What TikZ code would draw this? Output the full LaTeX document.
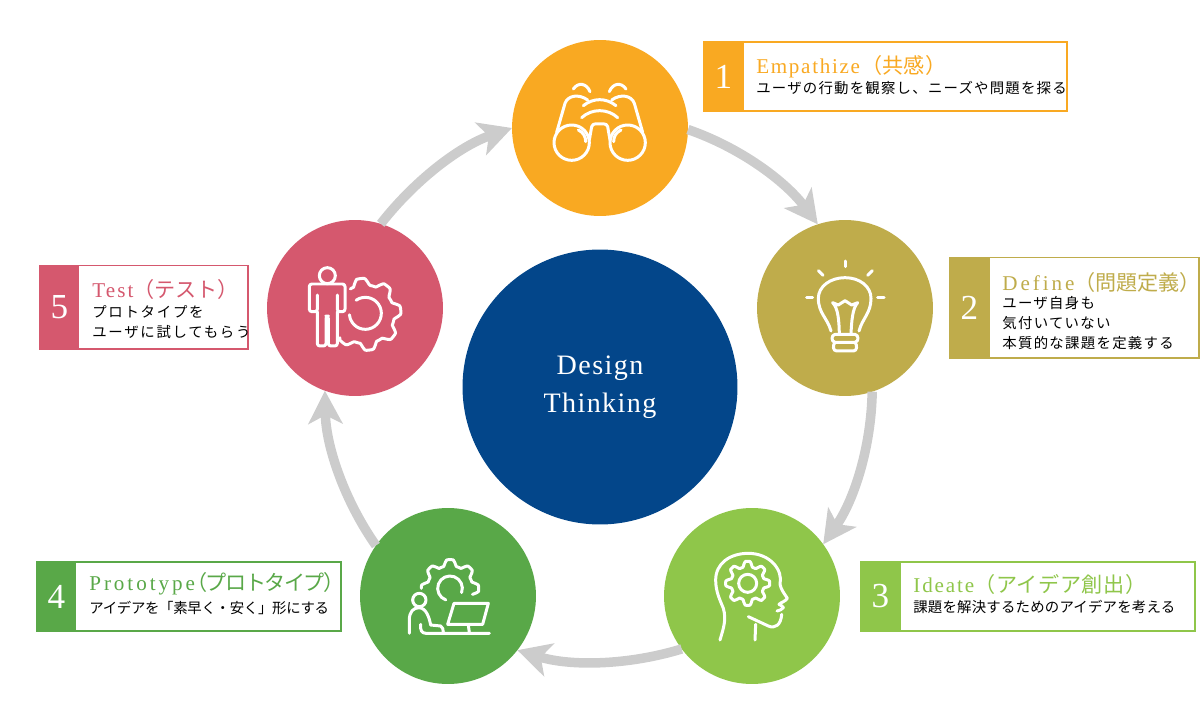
\documentclass[tikz,border=0pt]{standalone}
\usepackage{fontspec}
\usetikzlibrary{arrows.meta}
\setmainfont{Liberation Serif}
\newfontfamily\titlefont{Liberation Serif}
\newfontfamily\cjk{Noto Sans CJK JP}
\newfontfamily\cjktitle{Noto Sans CJK JP}
\definecolor{empathizeC}{HTML}{F9A922}
\definecolor{defineC}{HTML}{BFAC4B}
\definecolor{ideateC}{HTML}{8FC64A}
\definecolor{prototypeC}{HTML}{59A848}
\definecolor{testC}{HTML}{D5586E}
\definecolor{centerC}{HTML}{03468A}
\definecolor{arcC}{HTML}{CCCCCC}
\tikzset{
  stepdisc/.style={circle, minimum size=3.52cm, inner sep=0pt, outer sep=0pt},
  tagbox/.style={anchor=north west, fill=white, line width=0.04cm, inner sep=0pt, outer sep=0pt},
  numbox/.style={anchor=north west, inner sep=0pt, outer sep=0pt, minimum width=0.8cm,
    text=white, font=\fontsize{20}{20}\selectfont},
  tagtitle/.style={anchor=west, inner sep=0pt, font=\fontsize{12}{14}\titlefont\addfontfeature{LetterSpace=#1}},
  tagbody/.style={anchor=west, inner sep=0pt, align=left, font=\fontsize{8.2}{11.3}\cjk\addfontfeature{LetterSpace=#1}},
  cyclearc/.style={draw=arcC, line width=0.19cm, looseness=0.87,
    -{Stealth[length=0.66cm,width=0.68cm,inset=0.17cm]}},
  icon/.style={draw=white, line width=0.06cm, line cap=round, line join=round}
}
\begin{document}
\begin{tikzpicture}[x=0.02cm,y=-0.02cm]
  \useasboundingbox (0,0) rectangle (1200,726);

  % centre and the five steps
  \node (center) [circle, fill=centerC, minimum size=5.5cm, inner sep=0pt] at (600,387) {};
  \node (centertext) [text=white, align=center, inner sep=0pt,
    font=\fontsize{16}{21.6}\titlefont\addfontfeature{LetterSpace=5}] at (600,387.5) {Design\\Thinking};
  \node (stepone) [stepdisc, fill=empathizeC] at (600,128) {};
  \node (steptwo) [stepdisc, fill=defineC] at (845,308) {};
  \node (stepthree) [stepdisc, fill=ideateC] at (752,596) {};
  \node (stepfour) [stepdisc, fill=prototypeC] at (448,596) {};
  \node (stepfive) [stepdisc, fill=testC] at (355,308) {};

  % arrows
  \draw[cyclearc] (stepone.-1) to[out=-19, in=127] (steptwo.108);
  \draw[cyclearc] (steptwo.-72) to[out=-91, in=55] (stepthree.36);
  \draw[cyclearc] (stepthree.217) to[out=197, in=-17] (stepfour.-38);
  \draw[cyclearc] (stepfour.145) to[out=125, in=271] (stepfive.250);
  \draw[cyclearc] (stepfive.73) to[out=52, in=199] (stepone.180);

  % labels
  \node (boxone) [tagbox, draw=empathizeC, minimum width=7.28cm, minimum height=1.38cm] at (703.5,42.5) {};
  \node (numone) [numbox, fill=empathizeC, minimum height=1.38cm] at (703.5,42.5) {1};
  \node (titleone) [tagtitle=8, text=empathizeC] at (756,67) {Empathize{\cjktitle \kern1pt（共感）}};
  \node (bodyone) [tagbody=8.5] at (756,88) {ユーザの行動を観察し、ニーズや問題を探る};

  \node (boxtwo) [tagbox, draw=defineC, minimum width=5cm, minimum height=2.02cm] at (949.5,257.5) {};
  \node (numtwo) [numbox, fill=defineC, minimum height=2.02cm] at (949.5,257.5) {2};
  \node (titletwo) [tagtitle=14, text=defineC] at (1002,282) {Define{\cjktitle （問題定義）}};
  \node (bodytwo) [tagbody=9, anchor=north west] at (1002,296) {ユーザ自身も\\気付いていない\\本質的な課題を定義する};

  \node (boxthree) [tagbox, draw=ideateC, minimum width=6.7cm, minimum height=1.4cm] at (860.5,561.5) {};
  \node (numthree) [numbox, fill=ideateC, minimum height=1.4cm] at (860.5,561.5) {3};
  \node (titlethree) [tagtitle=9, text=ideateC] at (913,584) {Ideate{\cjktitle\addfontfeature{LetterSpace=3} （アイデア創出）}};
  \node (bodythree) [tagbody=1.5] at (913,607) {課題を解決するためのアイデアを考える};

  \node (boxfour) [tagbox, draw=prototypeC, minimum width=6.1cm, minimum height=1.4cm] at (36.5,561.5) {};
  \node (numfour) [numbox, fill=prototypeC, minimum height=1.4cm] at (36.5,561.5) {4};
  \node (titlefour) [tagtitle=14, text=prototypeC] at (89,584) {Prototype{\cjktitle\addfontfeature{LetterSpace=-7}\kern-5pt （プロトタイプ）}};
  \node (bodyfour) [tagbody=-2] at (89,608) {アイデアを「素早く・安く」形にする};

  \node (boxfive) [tagbox, draw=testC, minimum width=4.18cm, minimum height=1.68cm] at (39.5,265.5) {};
  \node (numfive) [numbox, fill=testC, minimum height=1.68cm] at (39.5,265.5) {5};
  \node (titlefive) [tagtitle=10, text=testC] at (92,289) {Test{\cjktitle （テスト）}};
  \node (bodyfive) [tagbody=12, anchor=north west] at (92,305) {プロトタイプを\\ユーザに試してもらう};

  % binoculars, in crop units
  \begin{scope}[shift={(545,75)}, scale=1/3, icon]
    \draw (80,203) circle (53);
    \draw (248,203) circle (53);
    \draw (100,165) .. controls (115,172) and (122,185) .. (122,200);
    \draw (228,165) .. controls (213,172) and (206,185) .. (206,200);
    \draw (35,172) -- (60,85) .. controls (68,62) and (100,55) .. (128,75);
    \draw (293,172) -- (268,85) .. controls (260,62) and (228,55) .. (200,75);
    \draw (133,195) -- (140,155) .. controls (142,149) and (146,147) .. (150,147) -- (178,147)
      .. controls (182,147) and (186,149) .. (188,155) -- (195,195);
    \draw (85,42) .. controls (100,20) and (125,25) .. (135,50);
    \draw (243,42) .. controls (228,20) and (203,25) .. (193,50);
    \draw (115,92) .. controls (145,68) and (183,68) .. (213,92);
    \draw (110,128) .. controls (140,100) and (188,100) .. (218,128);
  \end{scope}

  % bulb
  \begin{scope}[shift={(795,255)}, scale=1/3, icon]
    \draw (150,18) -- (150,35);
    \draw (70,47) -- (84,61);
    \draw (232,47) -- (218,61);
    \draw (35,127) -- (53,127);
    \draw (248,127) -- (267,127);
    \draw (108,228) .. controls (98,190) and (70,175) .. (70,130) .. controls (70,95) and (105,68) .. (150,68)
      .. controls (195,68) and (228,95) .. (228,130) .. controls (228,175) and (202,190) .. (192,228);
    \draw (133,235) .. controls (132,200) and (130,160) .. (113,143) -- (130,150) -- (150,137) -- (170,150) -- (188,143)
      .. controls (172,160) and (170,200) .. (168,235);
    \draw (120,238) -- (180,238) .. controls (192,240) and (192,260) .. (180,262) -- (120,262)
      .. controls (108,260) and (108,240) .. (120,238);
    \draw (120,262) .. controls (112,272) and (114,288) .. (125,288) -- (175,288)
      .. controls (186,288) and (188,272) .. (180,262);
  \end{scope}

  % head with gear
  \begin{scope}[shift={(705,545)}, scale=1/3, icon]
    \draw (45,285) .. controls (55,250) and (65,225) .. (55,190) .. controls (45,165) and (32,140) .. (32,105)
      .. controls (32,55) and (75,25) .. (130,25) .. controls (195,25) and (235,75) .. (225,118)
      .. controls (228,135) and (240,148) .. (247,160) .. controls (240,170) and (228,172) .. (222,178)
      .. controls (228,182) and (235,184) .. (235,188) .. controls (232,194) and (222,196) .. (216,198);
    \draw (130,215) -- (190,243) .. controls (210,252) and (228,240) .. (230,208);
    \draw (152,238) -- (150,285);
    \draw (128,115) circle (27);
    \draw[shift={(128,115)}] plot[smooth cycle, domain=0:357, samples=120]
      (\x:{58+8*max(-1,min(1,1.6*cos(8*\x)))});
  \end{scope}

  % person at a screen with gear
  \begin{scope}[shift={(400,555)}, scale=1/3, icon]
    \draw[shift={(150,100)}] plot[smooth, domain=-180:15, samples=90]
      (\x:{77+9*max(-1,min(1,1.6*cos(8*\x)))});
    \draw (150,100) ++(-250:37) arc[start angle=-250, end angle=20, radius=37];
    \draw (58,135) circle (20);
    \draw (28,235) -- (28,195) .. controls (28,170) and (40,158) .. (58,158)
      .. controls (80,160) and (88,190) .. (92,210) -- (122,213) .. controls (128,215) and (130,225) .. (130,232);
    \draw (62,208) .. controls (60,225) and (65,235) .. (78,235) -- (268,235);
    \draw (162,145) -- (265,145) -- (248,208) -- (143,208) -- cycle;
    \draw (205,210) -- (208,233);
  \end{scope}

  % person beside gear
  \begin{scope}[shift={(300,260)}, scale=1/3, icon]
    \draw (82,47) circle (24);
    \draw[rounded corners=0.05cm] (52,105) -- (52,155) -- (28,155) -- (28,72) -- (135,72) -- (135,155) -- (112,155) -- (112,105);
    \draw[rounded corners=0.05cm] (52,155) -- (52,258) -- (78,258) -- (78,168) -- (85,168) -- (85,258) -- (112,258) -- (112,155);
    \draw[shift={(195,163)}] plot[smooth, domain=-120:137, samples=110]
      ({\x}:{98+10*max(-1,min(1,1.6*cos(8*(\x+7))))});
    \draw (196,160) ++(-125:48) arc[start angle=-125, end angle=175, radius=48];
  \end{scope}
\end{tikzpicture}
\end{document}
